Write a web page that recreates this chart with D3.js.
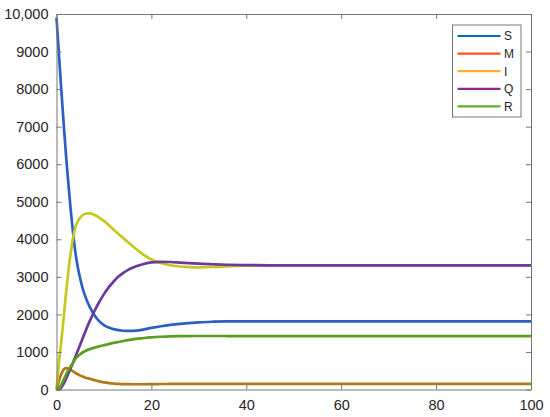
<!DOCTYPE html>
<html><head><meta charset="utf-8">
<script src="https://cdn.jsdelivr.net/npm/d3@7"></script>
<style>
html,body{margin:0;padding:0;background:#fff;}
svg{display:block;}
text{font-family:"Liberation Sans",Arial,Helvetica,sans-serif;fill:#262626;}
</style></head><body>
<svg id="chart" width="550" height="417"></svg>
<script>
const time = [0,0.5,1,1.5,2,2.5,3,3.5,4,4.5,5,5.5,6,7,8,9,10,11,12,13,14,15,16,18,20,22,24,26,28,30,33,36,40,45,50,60,70,80,90,100];
const S = [9900,8950,8000,7100,6250,5480,4780,4160,3640,3250,2950,2700,2500,2200,1980,1820,1715,1650,1608,1580,1565,1560,1562,1590,1640,1685,1720,1748,1770,1790,1805,1812,1815,1815,1815,1815,1815,1815,1815,1815];
const M = [0,220,410,530,570,560,520,480,440,405,370,345,320,285,250,215,190,172,160,150,145,142,140,140,143,146,148,150,151,152,152,152,152,152,152,152,152,152,152,152];
const I = [0,700,1270,1900,2550,3150,3650,4050,4330,4480,4580,4640,4680,4690,4650,4580,4490,4380,4260,4150,4040,3930,3820,3620,3460,3370,3310,3275,3260,3255,3262,3280,3295,3302,3305,3305,3305,3305,3305,3305];
const Q = [0,5,50,150,280,420,570,720,880,1040,1200,1360,1520,1820,2090,2330,2540,2720,2870,3000,3100,3180,3240,3330,3385,3400,3395,3380,3365,3350,3335,3322,3312,3308,3305,3305,3305,3305,3305,3305];
const R = [0,30,120,260,400,520,620,720,820,885,940,985,1020,1075,1115,1150,1180,1210,1240,1265,1290,1315,1335,1365,1390,1405,1415,1420,1423,1425,1425,1424,1422,1422,1422,1422,1422,1422,1422,1422];
const seriesNames = ["S","M","I","Q","R"];
const seriesValues = [S,M,I,Q,R];
const lineColors = ["#2b60c2","#b07a16","#c6c81e","#6a3a9c","#5c9e22"];
const legendColors = ["#0072BD","#FF5020","#FFB020","#8A2A8E","#5DB22F"];
const xTicks = [0,20,40,60,80,100];
const yTicks = [0,1000,2000,3000,4000,5000,6000,7000,8000,9000,10000];

const svg = d3.select("#chart");
const L = 56.5, Rr = 531, T = 14, B = 389.5;
const x = d3.scaleLinear().domain([0,100]).range([L,Rr]);
const y = d3.scaleLinear().domain([0,10000]).range([B,T]);
const axisColor = "#777";
const fmtY = v => v >= 10000 ? d3.format(",")(v) : String(v);

// lines
const line = d3.line().x(d => x(d[0])).y(d => y(d[1])).curve(d3.curveMonotoneX);
seriesValues.forEach((vals, k) => {
  svg.append("path")
    .datum(time.map((t,i) => [t, vals[i]]))
    .attr("fill","none")
    .attr("stroke", lineColors[k])
    .attr("stroke-width", 2.7)
    .attr("stroke-linejoin","round")
    .attr("d", line);
});

// axes
const tl = 5;
const gB = svg.append("g").attr("transform",`translate(0,${B})`)
  .call(d3.axisBottom(x).tickValues(xTicks).tickSizeInner(-tl).tickSizeOuter(0).tickPadding(10));
const gT = svg.append("g").attr("transform",`translate(0,${T})`)
  .call(d3.axisTop(x).tickValues(xTicks).tickSizeInner(-tl).tickSizeOuter(0).tickFormat(""));
const gL = svg.append("g").attr("transform",`translate(${L},0)`)
  .call(d3.axisLeft(y).tickValues(yTicks).tickSizeInner(-tl).tickSizeOuter(0).tickPadding(8).tickFormat(fmtY));
const gR = svg.append("g").attr("transform",`translate(${Rr},0)`)
  .call(d3.axisRight(y).tickValues(yTicks).tickSizeInner(-tl).tickSizeOuter(0).tickFormat(""));
[gB,gT,gL,gR].forEach(g => {
  g.select(".domain").attr("stroke", axisColor).attr("stroke-width",1);
  g.selectAll(".tick line").attr("stroke", axisColor);
  g.selectAll("text").attr("font-size","14.5px").attr("fill","#262626")
    .style("font-family",'"Liberation Sans",Arial,Helvetica,sans-serif');
});
gB.selectAll("text").attr("dy","0.71em");

// legend
const lg = svg.append("g");
const lx0 = 452.5, ly0 = 25, lw = 68.5, lh = 92;
lg.append("rect").attr("x",lx0).attr("y",ly0).attr("width",lw).attr("height",lh)
  .attr("fill","#fff").attr("stroke","#777").attr("stroke-width",1);
seriesNames.forEach((n,k) => {
  const yy = 36 + k*17.6;
  lg.append("line").attr("x1",457.5).attr("x2",500.5).attr("y1",yy).attr("y2",yy)
    .attr("stroke",legendColors[k]).attr("stroke-width",2.2);
  lg.append("text").attr("x",504).attr("y",yy).attr("dy","0.36em")
    .attr("font-size","12px").text(n);
});
</script>
</body></html>
